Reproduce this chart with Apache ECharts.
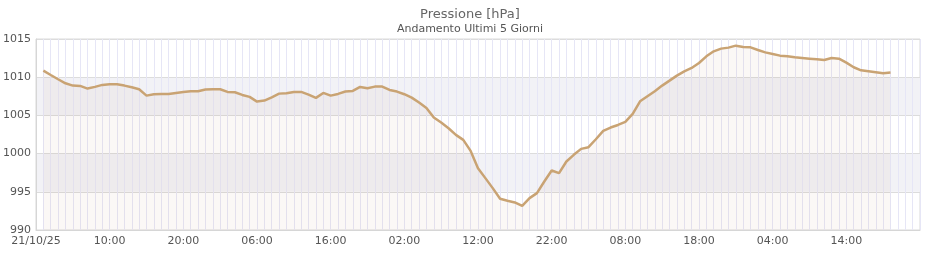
<!DOCTYPE html>
<html>
<head>
<meta charset="utf-8">
<script src="https://cdn.jsdelivr.net/npm/echarts@6/dist/echarts.min.js"></script>
<style>
html,body{margin:0;padding:0;background:#fff;}
#chart{width:940px;height:260px;}
</style>
</head>
<body>
<div id="chart"></div>
<script>
// Hours since 21/10/25 00:00 of the first reading
var startHour = 1;
// Hourly pressure readings [hPa]
var pressure = [
  1010.86, 1010.29, 1009.73, 1009.20, 1008.90, 1008.86, 1008.51, 1008.73, 1008.99, 1009.07,
  1009.07, 1008.90, 1008.68, 1008.42, 1007.59, 1007.77, 1007.81, 1007.81, 1007.94, 1008.05,
  1008.16, 1008.16, 1008.38, 1008.42, 1008.42, 1008.07, 1008.03, 1007.68, 1007.42, 1006.81,
  1006.94, 1007.37, 1007.85, 1007.90, 1008.07, 1008.07, 1007.72, 1007.29, 1007.94, 1007.59,
  1007.81, 1008.12, 1008.20, 1008.73, 1008.55, 1008.77, 1008.77, 1008.33, 1008.12, 1007.77,
  1007.33, 1006.68, 1005.98, 1004.72, 1004.06, 1003.32, 1002.45, 1001.80, 1000.35, 998.09,
  996.79, 995.48, 994.08, 993.82, 993.61, 993.17, 994.17, 994.83, 996.35, 997.79,
  997.44, 998.97, 999.84, 1000.62, 1000.84, 1001.88, 1002.97, 1003.41, 1003.75, 1004.15,
  1005.20, 1006.85, 1007.51, 1008.16, 1008.90, 1009.55, 1010.21, 1010.77, 1011.21, 1011.86,
  1012.73, 1013.39, 1013.74, 1013.87, 1014.13, 1013.95, 1013.91, 1013.56, 1013.25, 1013.04,
  1012.82, 1012.73, 1012.60, 1012.52, 1012.43, 1012.34, 1012.25, 1012.52, 1012.43, 1011.91,
  1011.30, 1010.90, 1010.77, 1010.64, 1010.51, 1010.60
];
// X tick labels, one every 10 hours
var xTickLabels = ["21/10/25", "10:00", "20:00", "06:00", "16:00", "02:00", "12:00", "22:00", "08:00", "18:00", "04:00", "14:00", ""];
var xMaxHours = 120;
var yMin = 990, yMax = 1015, yStep = 5;

var seriesData = pressure.map(function (v, i) { return [startHour + i, v]; });

var chart = echarts.init(document.getElementById('chart'), null, {renderer: 'canvas'});
var font = 'DejaVu Sans';
chart.setOption({
  animation: false,
  backgroundColor: '#ffffff',
  textStyle: {fontFamily: font},
  title: [
    {text: 'Pressione [hPa]', left: 'center', top: 3,
     textStyle: {fontFamily: font, fontSize: 13, fontWeight: 'normal', color: '#666666'}},
    {text: 'Andamento Ultimi 5 Giorni', left: 'center', top: 19,
     textStyle: {fontFamily: font, fontSize: 11, fontWeight: 'normal', color: '#555555'}}
  ],
  grid: {left: 35, right: 20, top: 39, bottom: 30, show: true, borderColor: '#dadada', borderWidth: 1, backgroundColor: 'transparent'},
  xAxis: {
    type: 'value', min: 0, max: xMaxHours, interval: 10,
    axisLine: {show: true, lineStyle: {color: '#d6d6d6'}},
    axisTick: {show: false},
    axisLabel: {color: '#555555', fontSize: 11, fontFamily: font, margin: 6,
      formatter: function (v) { return xTickLabels[Math.round(v / 10)] || ''; }},
    splitLine: {show: true, lineStyle: {color: '#e6e6f6', width: 1}},
    minorTick: {show: false, splitNumber: 10},
    minorSplitLine: {show: true, lineStyle: {color: '#e6e6f6', width: 1}}
  },
  yAxis: {
    type: 'value', min: yMin, max: yMax, interval: yStep,
    axisLine: {show: true, lineStyle: {color: '#d6d6d6'}},
    axisTick: {show: false},
    axisLabel: {color: '#555555', fontSize: 11, fontFamily: font, margin: 5,
      formatter: function (v) { return String(v); }},
    splitLine: {show: true, lineStyle: {color: '#dcdcdc', width: 1}},
    splitArea: {show: true, areaStyle: {color: ['rgba(255,255,255,0)', '#f2f2f6']}}
  },
  series: [{
    type: 'line',
    data: seriesData,
    symbol: 'none',
    smooth: false,
    lineStyle: {color: '#c9a373', width: 2.5},
    areaStyle: {color: 'rgba(180,120,70,0.07)', origin: 'start'},
    z: 3
  }]
});
</script>
</body>
</html>
